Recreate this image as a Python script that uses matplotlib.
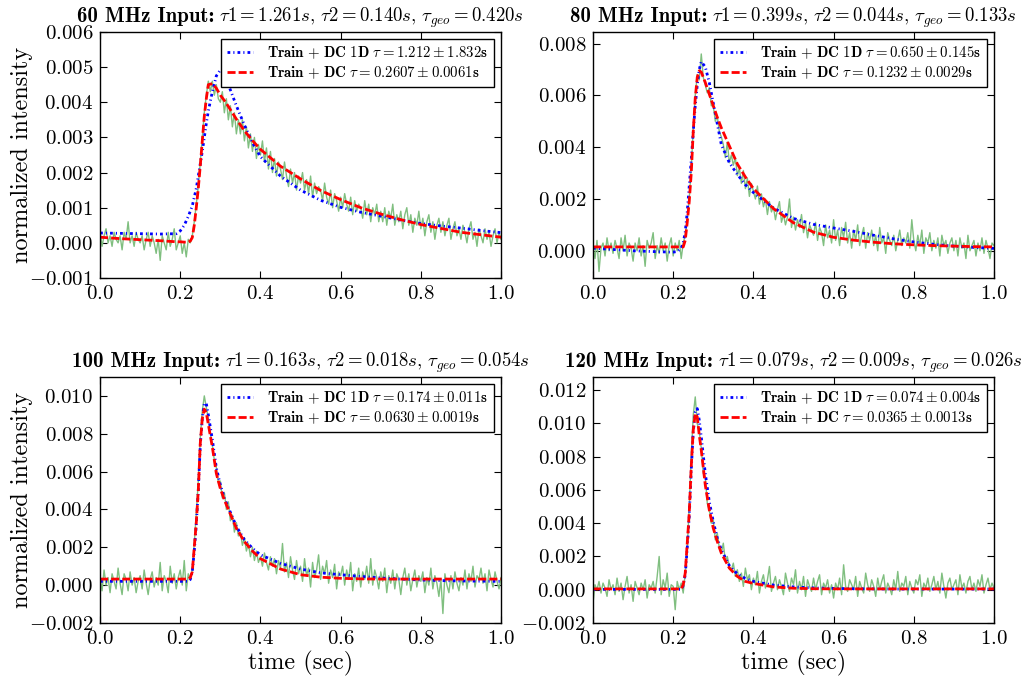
import numpy as np
import matplotlib
matplotlib.use("Agg")
from matplotlib import pyplot as plt
from matplotlib.ticker import MultipleLocator

# sample times of the measured profiles (one sample every 5 ms)
t = np.round(np.arange(201) * 0.005, 3)

# measured profiles, units of 1e-4
green_60 = [3, -1, 2, 4, 0, 2, -1, 3, 1, 0,
            2, -2, 3, 1, 6, 0, 2, -1, 3, 1,
            0, 2, -2, 1, 3, -1, 2, 0, -3, 1,
            -5, 2, 0, -2, 3, -1, 1, 4, -2, 0,
            2, -3, 0, -4, 1, 0, 2, 6, 11, 16,
            23, 30, 37, 42, 46, 43, 46, 42, 45, 41,
            40, 43, 37, 41, 35, 39, 33, 37, 31, 35,
            31, 35, 29, 33, 27, 31, 26, 30, 24, 28,
            25, 29, 23, 27, 21, 26, 20, 24, 19, 23,
            21, 18, 23, 19, 16, 21, 17, 20, 15, 19,
            17, 20, 15, 18, 14, 19, 13, 17, 14, 16,
            15, 12, 17, 13, 11, 15, 10, 14, 12, 9,
            13, 10, 14, 11, 9, 13, 8, 12, 9, 11,
            10, 7, 12, 8, 11, 6, 10, 8, 11, 6,
            9, 6, 10, 5, 9, 7, 11, 5, 8, 6,
            9, 4, 8, 10, 5, 8, 3, 7, 5, 9,
            4, 7, 2, 6, 8, 3, 6, 1, 5, 7,
            3, 6, 2, 5, 7, 1, 4, 6, 2, 4,
            1, 5, 3, 0, 4, 6, 1, 3, -1, 4,
            2, 0, 4, 1, 3, -1, 2, 4, 0, 3,
            1]
green_80 = [2, -3, 4, -8, 1, 3, -2, 5, 0, 3,
            -1, 4, 1, -3, 5, 0, 6, -2, 3, 1,
            -4, 3, 0, 5, -2, 2, -6, 4, 1, 3,
            7, -3, 2, -1, 5, 0, 3, -4, 2, 5,
            -2, 3, 0, 4, -3, 3, 6, 12, 20, 32,
            47, 60, 68, 66, 76, 67, 64, 61, 63, 56,
            56, 50, 52, 46, 44, 41, 36, 42, 34, 37,
            33, 36, 29, 32, 26, 31, 24, 28, 21, 26,
            23, 20, 25, 18, 22, 17, 20, 14, 19, 15,
            17, 12, 16, 19, 11, 14, 10, 13, 20, 9,
            13, 8, 12, 9, 14, 7, 11, 5, 10, 8,
            6, 11, 4, 9, 7, 2, 10, 5, 8, 3,
            12, 4, 8, 2, 9, 5, 11, 3, 7, 1,
            8, 4, 10, 2, 6, 9, 1, 7, 4, 8,
            2, 6, 0, 9, 3, 5, -1, 7, 4, 2,
            6, 0, 4, 8, 2, 5, 3, 7, 1, 12,
            4, 0, 6, 2, 8, -1, 5, 3, 7, 0,
            4, 1, 5, -2, 6, 2, 4, -1, 3, 5,
            0, 4, -2, 5, 1, 3, -3, 6, 0, 2,
            4, -2, 3, 0, 5, -1, 4, 1, -3, 3,
            2]
green_100 = [5, -3, 8, 0, 4, -4, 6, 2, -2, 9,
             1, -5, 6, 3, -3, 7, 0, 4, -4, 2,
             5, -2, 8, 1, -5, 3, 7, -1, 4, 0,
             12, -3, 5, 2, -4, 10, 1, 6, -2, 4,
             8, 0, 13, -3, 6, 3, 8, 22, 38, 55,
             78, 92, 100, 94, 88, 80, 74, 66, 62, 54,
             55, 46, 49, 40, 44, 34, 37, 28, 33, 26,
             28, 21, 25, 18, 22, 15, 20, 13, 18, 12,
             15, 10, 17, 12, 8, 15, 10, 14, 6, 13,
             9, 22, 7, 12, 4, 15, 8, 3, 13, 6,
             10, 2, 14, 5, 9, -1, 12, 4, 8, 16,
             3, 10, 6, 13, 1, 8, 4, 11, -2, 7,
             5, 10, 0, 8, 3, 12, -3, 6, 2, 9,
             -1, 7, 3, 10, 1, 14, 0, 8, 4, -2,
             7, 2, 9, -4, 5, 1, 8, -2, 6, 3,
             -5, 4, 9, 0, 6, -3, 3, 8, -1, 5,
             2, 7, -4, 4, 0, 9, -2, 5, 1, -6,
             3, -15, 6, 0, -4, 5, -2, 7, 1, -3,
             4, 0, 8, -2, 6, 2, 10, -1, 5, 3,
             9, 1, 6, -3, 8, 3, -1, 7, 2, -2,
             4]
green_120 = [-8, 3, 0, 5, -2, 4, 1, -4, 6, 0,
             3, -3, 7, -1, 4, -6, 2, 8, -2, 3,
             -7, 5, 1, -3, 4, 0, 6, -5, 3, 1,
             5, -2, 8, 20, -3, 6, 1, 10, -4, 3,
             2, -12, 5, 0, 4, -2, 10, 25, 50, 80,
             105, 116, 100, 95, 85, 70, 68, 52, 48, 40,
             42, 30, 34, 25, 22, 28, 17, 20, 14, 12,
             16, 8, 12, 5, 10, 2, 13, 6, 9, 0,
             7, 3, 11, -2, 5, 9, 1, 6, 14, -1,
             4, 8, 0, 6, 2, -3, 10, 4, -1, 7,
             3, 12, -2, 5, 0, 8, -4, 6, 2, -1,
             7, 0, 5, 9, -3, 4, 1, 6, -2, 3,
             -5, 4, 0, 7, -3, 15, 2, -1, 6, 3,
             0, 8, -4, 5, 1, -2, 10, 3, -1, 6,
             2, -4, 7, 0, 5, 9, -2, 4, 1, -3,
             6, 0, 11, -1, 4, 2, 8, -3, 5, 1,
             -2, 6, 3, 9, -4, 4, 1, 7, -1, 3,
             8, 0, 5, -2, 10, 2, -5, 4, 7, 0,
             3, 6, -3, 9, 1, 4, -2, 5, 8, 0,
             4, -1, 6, 2, 9, -2, 3, 7, 0, 4,
             1]

# fitted curves, units of 1e-4
fit_t = [0.0, 0.05, 0.1, 0.15, 0.19, 0.2, 0.21, 0.22,
         0.225, 0.23, 0.235, 0.24, 0.245, 0.25, 0.255, 0.26, 0.265, 0.27,
         0.28, 0.29, 0.3, 0.31, 0.32,
         0.34, 0.36, 0.38, 0.4,
         0.45, 0.5, 0.55, 0.6, 0.65, 0.7, 0.75, 0.8, 0.85, 0.9, 0.95, 1.0]

blue_60 = [2.8, 2.7, 2.6, 2.5, 2.6, 3.4, 5, 7.5,
           9, 10.5, 13, 15.5, 19, 22.5, 26, 30, 34, 37.5,
           43, 47.5, 49.2, 48.3, 45,
           39, 33.5, 28.5, 24.5,
           19, 15, 12.1, 10.1, 8.7, 7.6, 6.5, 5.5, 4.8, 4.2, 3.5, 2.9]
red_60 = [1.6, 1.2, 0.9, 0.6, 0.3, 0.3, 0.2, 0.2,
          0.5, 1.5, 5, 10, 15.5, 22, 29, 36, 41, 45,
          45.3, 44, 42, 40.5, 38.8,
          35.2, 31.9, 29.1, 26.6,
          21.8, 18.2, 14.9, 12.3, 10, 8.2, 6.6, 5.2, 4.1, 3.0, 2.3, 1.6]

blue_80 = [1, 0.5, 0, -0.3, -0.5, -0.5, -0.3, 1,
           3, 7.3, 15, 25, 35, 46, 56, 64, 70, 73,
           71, 65, 57, 49, 41,
           34, 29.5, 25.5, 22.5,
           16.5, 12.5, 10.2, 8.8, 7.5, 6, 4.6, 3.4, 2.5, 1.8, 1.3, 0.9]
red_80 = [1.5, 1.5, 1.5, 1.5, 1.5, 1.5, 1.5, 1.5,
          1.5, 4, 11, 19, 30, 46, 59, 67, 69.5, 69,
          65, 60.5, 56, 51.5, 47.5,
          40.5, 33.5, 28.5, 24,
          16.3, 10.8, 7.2, 5.2, 4.1, 3.3, 2.7, 2.3, 2.0, 1.8, 1.6, 1.5]

blue_100 = [2, 2, 2, 2, 2, 2, 2, 2,
            3, 7, 18, 32, 50, 74, 88, 96, 96, 90,
            77, 62, 53, 46, 41,
            31, 24, 19.5, 16,
            11.5, 8.5, 6.5, 5.5, 4.6, 3.8, 3.2, 2.7, 2.4, 2.2, 2.1, 2]
red_100 = [3.2, 3.2, 3.2, 3.2, 3.2, 3.2, 3.2, 3.2,
           4, 7, 20, 33, 50, 75, 88, 93, 91, 85,
           73, 59, 51, 45, 40,
           30, 23, 18, 14,
           8.5, 5.5, 4.2, 3.6, 3.3, 3.2, 3.2, 3.2, 3.2, 3.2, 3.2, 3.2]

blue_120 = [0.2, 0.2, 0.2, 0.2, 0.2, 0.2, 0.2, 0.2,
            2.5, 9, 25, 44, 72, 95, 107, 109, 102, 92,
            70, 53, 41, 31, 24,
            14.5, 9.5, 6.8, 5,
            2.8, 1.7, 1.1, 0.8, 0.6, 0.5, 0.4, 0.4, 0.4, 0.4, 0.4, 0.4]
red_120 = [0.5, 0.5, 0.5, 0.5, 0.5, 0.5, 0.5, 0.5,
           3, 10, 28, 46, 74, 96, 106, 104, 93, 84,
           63, 48, 37, 29, 22,
           13, 8, 5, 3.8,
           1.7, 0.9, 0.6, 0.5, 0.5, 0.5, 0.5, 0.5, 0.5, 0.5, 0.5, 0.5]

bold_titles = ["60 MHz Input:", "80 MHz Input:", "100 MHz Input:", "120 MHz Input:"]
math_titles = [r"$\tau1 = 1.261s,\,\tau2 = 0.140s,\,\tau_{geo} = 0.420s$",
               r"$\tau1 = 0.399s,\,\tau2 = 0.044s,\,\tau_{geo} = 0.133s$",
               r"$\tau1 = 0.163s,\,\tau2 = 0.018s,\,\tau_{geo} = 0.054s$",
               r"$\tau1 = 0.079s,\,\tau2 = 0.009s,\,\tau_{geo} = 0.026s$"]
blue_labels = [r"$\mathbf{Train\ {+}\ DC\ 1D}\ \tau = 1.212 \pm 1.832\mathbf{s}$",
               r"$\mathbf{Train\ {+}\ DC\ 1D}\ \tau = 0.650 \pm 0.145\mathbf{s}$",
               r"$\mathbf{Train\ {+}\ DC\ 1D}\ \tau = 0.174 \pm 0.011\mathbf{s}$",
               r"$\mathbf{Train\ {+}\ DC\ 1D}\ \tau = 0.074 \pm 0.004\mathbf{s}$"]
red_labels = [r"$\mathbf{Train\ {+}\ DC}\ \tau = 0.2607 \pm 0.0061\mathbf{s}$",
              r"$\mathbf{Train\ {+}\ DC}\ \tau = 0.1232 \pm 0.0029\mathbf{s}$",
              r"$\mathbf{Train\ {+}\ DC}\ \tau = 0.0630 \pm 0.0019\mathbf{s}$",
              r"$\mathbf{Train\ {+}\ DC}\ \tau = 0.0365 \pm 0.0013\mathbf{s}$"]
ylims = [(-0.001, 0.006), (-0.00105, 0.00845), (-0.002, 0.011), (-0.002, 0.0128)]
ysteps = [0.001, 0.002, 0.002, 0.002]

greens = [green_60, green_80, green_100, green_120]
blues = [blue_60, blue_80, blue_100, blue_120]
reds = [red_60, red_80, red_100, red_120]

plt.rcParams['font.family'] = 'serif'
plt.rcParams['font.serif'] = ['cmr10']
plt.rcParams['mathtext.fontset'] = 'cm'
plt.rcParams['axes.formatter.use_mathtext'] = True
plt.rcParams['lines.scale_dashes'] = False
plt.rcParams['xtick.direction'] = 'in'
plt.rcParams['ytick.direction'] = 'in'
plt.rcParams['xtick.top'] = True
plt.rcParams['ytick.right'] = True

fig = plt.figure(figsize=(10.24, 6.77), dpi=100)
W, H = fig.bbox.width, fig.bbox.height
rend = fig.canvas.get_renderer()
lefts = [0.0977, 0.5791, 0.0977, 0.5791]
bottoms = [0.5894, 0.5894, 0.0798, 0.0798]

for i in range(4):
    ax = fig.add_axes([lefts[i], bottoms[i], 0.3916, 0.3634])
    ax.plot(t, np.array(greens[i]) * 1e-4, color=(0.5, 0.75, 0.5), lw=1)
    ax.plot(fit_t, np.array(blues[i]) * 1e-4, color='b', lw=2,
            dashes=(2, 2.2, 0.8, 2.2), label=blue_labels[i])
    ax.plot(fit_t, np.array(reds[i]) * 1e-4, color='r', lw=2,
            dashes=(5.8, 2.2), label=red_labels[i])
    ax.set_xlim(0, 1)
    ax.set_ylim(ylims[i])
    ax.xaxis.set_major_locator(MultipleLocator(0.2))
    ax.yaxis.set_major_locator(MultipleLocator(ysteps[i]))
    ax.tick_params(labelsize=15, length=5, width=0.8, pad=5)
    for s in ax.spines.values():
        s.set_linewidth(1)
    leg = ax.legend(loc='upper right', fontsize=10.7, fancybox=False,
                    framealpha=1, edgecolor='k', handlelength=1.75,
                    handletextpad=1.0, labelspacing=0.2, borderaxespad=0.45)
    leg.get_frame().set_linewidth(1)
    if i % 2 == 0:
        ax.set_ylabel("normalized intensity", fontsize=17.5)
        ax.yaxis.set_label_coords(-0.167, 0.5)
    if i >= 2:
        ax.set_xlabel("time (sec)", fontsize=17.5, labelpad=2)

    # title: bold roman part followed by the math part, centred over the axes
    t1 = fig.text(0, 0, bold_titles[i], family='cmb10', fontsize=15, va='baseline')
    t2 = fig.text(0, 0, math_titles[i], fontsize=13.5, va='baseline')
    w1 = t1.get_window_extent(rend).width
    w2 = t2.get_window_extent(rend).width
    gap = 5
    bb = ax.get_position()
    x0 = (bb.x0 + bb.x1) / 2 * W - (w1 + gap + w2) / 2
    yb = bb.y1 * H + 10
    t1.set_position((x0 / W, yb / H))
    t2.set_position(((x0 + w1 + gap) / W, yb / H))

fig.savefig("out.png", dpi=100)
